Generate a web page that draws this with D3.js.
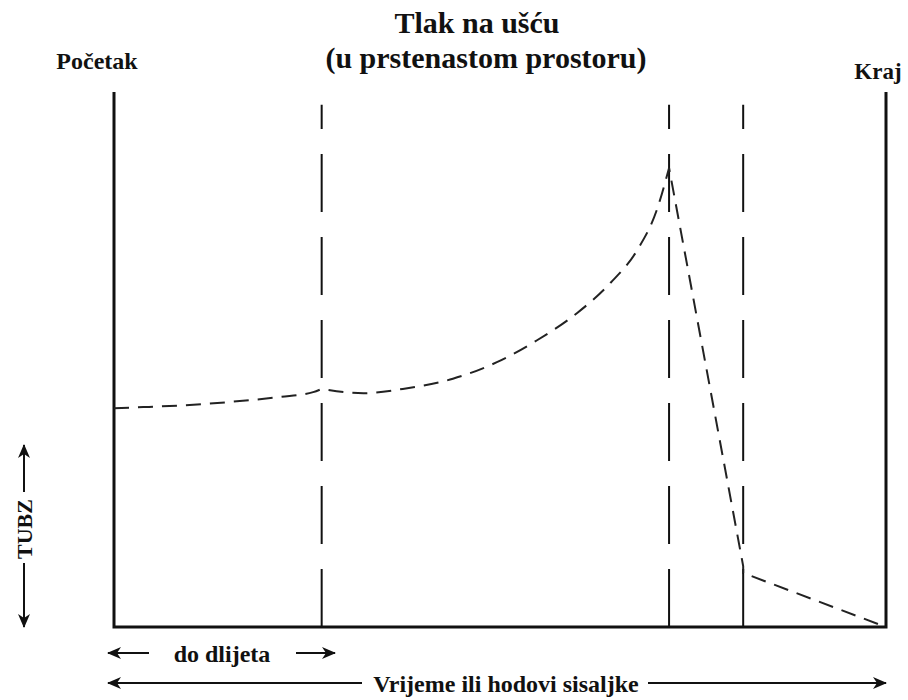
<!DOCTYPE html>
<html>
<head>
<meta charset="utf-8">
<script src="https://cdn.jsdelivr.net/npm/d3@7"></script>
<style>
  body { margin: 0; background: #fff; }
</style>
</head>
<body>
<svg id="chart" width="908" height="700"></svg>
<script>
// pressure curve, x = time (0-100), y = pressure (0-100)
const rampX = [0, 3.8, 9.8, 15.3, 21.5, 25.8, 26.9];
const rampY = [40.9, 41.1, 41.5, 42.1, 43.0, 43.9, 44.5];
const riseX = [26.9, 32.3, 37.4, 43.9, 49.6, 54.8, 60.0, 64.3, 67.8, 70.3, 71.9];
const riseY = [44.5, 43.7, 44.5, 46.4, 49.5, 53.6, 58.7, 64.3, 70.5, 77.9, 85.8];
const dropX = [71.9, 81.5, 81.5, 100];
const dropY = [85.8, 11.4, 10.1, 0];

// phase boundaries (dashed verticals)
const markers = [26.9, 71.9, 81.5];

const titleLines = ["Tlak na ušću", "(u prstenastom prostoru)"];
const startLabel = "Početak";
const endLabel = "Kraj";
const yLabel = "TUBZ";
const bitLabel = "do dlijeta";
const xLabel = "Vrijeme ili hodovi sisaljke";

const serif = "'Liberation Serif', 'Times New Roman', 'DejaVu Serif', serif";

const svg = d3.select("#chart");

const x = d3.scaleLinear().domain([0, 100]).range([114, 886]);
const y = d3.scaleLinear().domain([0, 100]).range([627, 92]);

// arrow head
const defs = svg.append("defs");
defs.append("marker")
    .attr("id", "head")
    .attr("viewBox", "-14 -7 16 14")
    .attr("refX", 0)
    .attr("refY", 0)
    .attr("markerWidth", 16)
    .attr("markerHeight", 14)
    .attr("markerUnits", "userSpaceOnUse")
    .attr("orient", "auto-start-reverse")
    .append("path")
    .attr("d", "M1,0 L-13,-6 L-9,0 L-13,6 Z")
    .attr("fill", "#111");

// frame: left, right, bottom
svg.append("path")
    .attr("d", `M${x(0)},${y(100)} L${x(0)},${y(0)} L${x(100)},${y(0)} L${x(100)},${y(100)}`)
    .attr("fill", "none")
    .attr("stroke", "#111")
    .attr("stroke-width", 3);

// dashed verticals, drawn from the bottom up
svg.selectAll(".marker")
    .data(markers)
    .enter()
    .append("line")
    .attr("class", "marker")
    .attr("x1", d => x(d))
    .attr("x2", d => x(d))
    .attr("y1", y(0))
    .attr("y2", y(97.6))
    .attr("stroke", "#111")
    .attr("stroke-width", 2)
    .attr("stroke-dasharray", "58,25");

// curve
const smooth = d3.line()
    .x(d => x(d[0]))
    .y(d => y(d[1]))
    .curve(d3.curveMonotoneX);
const straight = d3.line()
    .x(d => x(d[0]))
    .y(d => y(d[1]));

const pathA = smooth(rampX.map((v, i) => [v, rampY[i]]));
const pathB = smooth(riseX.map((v, i) => [v, riseY[i]])).replace(/^M/, "L");
const pathC = straight(dropX.map((v, i) => [v, dropY[i]])).replace(/^M/, "L");

svg.append("path")
    .attr("d", pathA + pathB + pathC)
    .attr("fill", "none")
    .attr("stroke", "#222")
    .attr("stroke-width", 2)
    .attr("stroke-dasharray", "15,9");

function label(tx, ty, size, str, transform) {
  const t = svg.append("text")
      .attr("text-anchor", "middle")
      .attr("font-family", serif)
      .attr("font-weight", "bold")
      .attr("font-size", size)
      .attr("fill", "#111")
      .text(str);
  if (transform) t.attr("transform", transform);
  else t.attr("x", tx).attr("y", ty);
  return t;
}

// title
label(477, 33, 30, titleLines[0]);
label(486, 68, 30, titleLines[1]);

label(97, 69, 24, startLabel);
label(878, 79, 23, endLabel);

// y label with arrows
label(0, 0, 22, yLabel, "translate(32, 529) rotate(-90)");

const arrows = [
  [24, 492, 24, 445],
  [24, 563, 24, 627],
  [149, 653, 108, 653],
  [296, 653, 335, 653],
  [362, 683, 108, 683],
  [648, 683, 886, 683]
];
svg.selectAll(".arrow")
    .data(arrows)
    .enter()
    .append("line")
    .attr("class", "arrow")
    .attr("x1", d => d[0])
    .attr("y1", d => d[1])
    .attr("x2", d => d[2])
    .attr("y2", d => d[3])
    .attr("stroke", "#111")
    .attr("stroke-width", 2)
    .attr("marker-end", "url(#head)");

label(222, 662, 24, bitLabel);
label(506, 692, 24, xLabel);
</script>
</body>
</html>
